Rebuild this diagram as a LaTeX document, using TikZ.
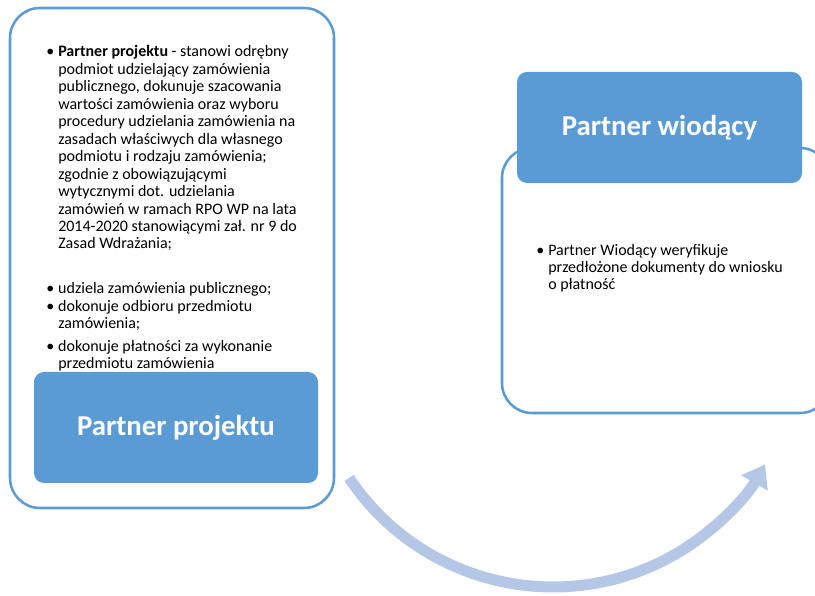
\documentclass[tikz,border=0pt]{standalone}
\usepackage{fontspec}
\setmainfont{Carlito}
\usetikzlibrary{arrows.meta}
\definecolor{accent}{HTML}{5B9BD5}
\definecolor{flow}{HTML}{B4C7E7}
% body text: fixed line pitch, never widened by tall accents
\newcommand\bodytextfont{\fontsize{12}{13.1}\selectfont\setlength{\lineskiplimit}{-20pt}}
\begin{document}
\begin{tikzpicture}[x=0.75pt,y=0.75pt,
  frame/.style={draw=accent, line width=1.9pt, fill=white, rounded corners=22.5pt, inner sep=0pt},
  header/.style={fill=accent, rounded corners=7.5pt, inner sep=0pt, text=white,
    font=\fontsize{21.6}{26}\selectfont\bfseries},
  body/.style={anchor=base west, inner sep=0pt, align=left, text=black, font=\bodytextfont},
  flowarrow/.style={draw=flow, line width=8.25pt, -{Triangle[length=16pt,width=22pt]}}]
\useasboundingbox (0,0) rectangle (815,596);

% left group: frame with details, header at its bottom
% (body nodes are placed by the baseline of their last line)
\node[frame, minimum width=243pt, minimum height=375pt] (leftframe) at (172,338) {};
\node[body] (leftlead) at (58,347) {\llap{•\hspace{3pt}}\textbf{Partner projektu} - stanowi odrębny\\
podmiot udzielający zamówienia\\
publicznego, dokunuje szacowania\\
wartości zamówienia oraz wyboru\\
procedury udzielania zamówienia na\\
zasadach właściwych dla własnego\\
podmiotu i rodzaju zamówienia;\\
zgodnie z obowiązującymi\\
wytycznymi dot. udzielania\\
zamówień w ramach RPO WP na lata\\
2014-2020 stanowiącymi zał. nr 9 do\\
Zasad Wdrażania;};
\node[body] (leftduties) at (58,227) {\llap{•\hspace{3pt}}udziela zamówienia publicznego;\\
\llap{•\hspace{3pt}}dokonuje odbioru przedmiotu\\
zamówienia;\\[4pt]
\llap{•\hspace{3pt}}dokonuje płatności za wykonanie\\
przedmiotu zamówienia};
\node[header, minimum width=213pt, minimum height=83.25pt] (lefthead) at (176,168.5) {Partner projektu};

% right group: frame with details, header at its top
\node[frame, minimum width=246pt, minimum height=198.75pt] (rightframe) at (666,315.5) {};
\node[header, minimum width=213.75pt, minimum height=83.25pt] (righthead) at (659.5,468.5) {Partner wiodący};
\node[body] (rightnote) at (548,306) {\llap{•\hspace{3pt}}Partner Wiodący weryfikuje\\
przedłożone dokumenty do wniosku\\
o płatność};

% curved flow from the left group to the right group
\coordinate (flowstart) at (349.1,118.1);
\draw[flowarrow] (flowstart) arc[start angle=213.7, end angle=330, radius=245];
\end{tikzpicture}
\end{document}
